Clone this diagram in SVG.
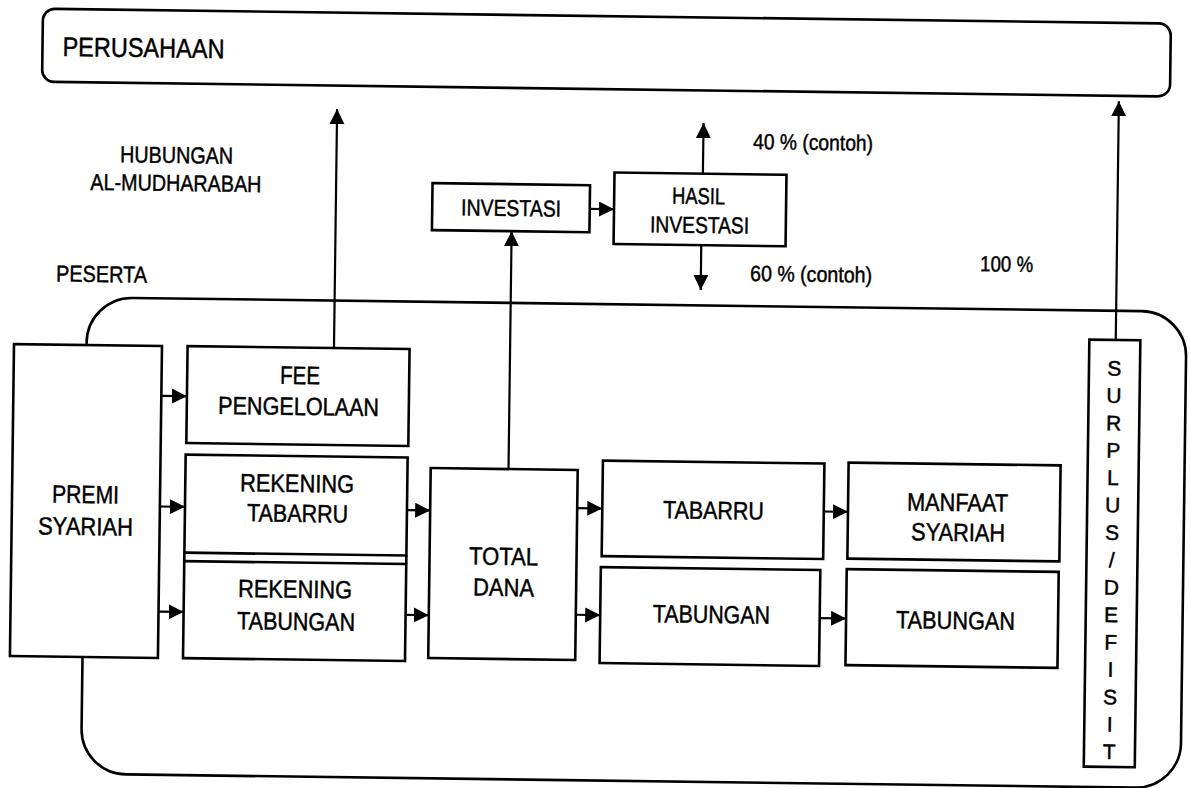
<svg xmlns="http://www.w3.org/2000/svg" width="1190" height="788" viewBox="0 0 1190 788">
<style>
.box{fill:#fff;stroke:#000;stroke-width:2.6}
.frame{fill:none;stroke:#000;stroke-width:2.6}
.t{font-family:"Liberation Sans Narrow","Liberation Sans",Arial,sans-serif;font-size:25px;fill:#000;stroke:#000;stroke-width:0.45;text-anchor:middle}
.s{font-size:23px}
.p{font-size:22px;text-anchor:start}
.conn line{stroke:#000;stroke-width:2.2;fill:none}
</style>
<defs>
<marker id="ah" markerUnits="userSpaceOnUse" markerWidth="16" markerHeight="16" refX="15" refY="7.5" orient="auto">
<path d="M0,0 L15,7.5 L0,15 Z" fill="#000"/>
</marker>
</defs>
<rect width="1190" height="788" fill="#fff"/>
<g transform="rotate(0.75 595 394)">
<g id="peserta">
<rect class="frame" x="86" y="304" width="1099.5" height="476.5" rx="45"/>
<text class="t s" x="54.5" y="288.5" style="text-anchor:start" textLength="91" lengthAdjust="spacingAndGlyphs">PESERTA</text>
</g>
<g id="perusahaan">
<rect class="frame" x="38" y="16" width="1128" height="73" rx="12"/>
<text class="t" x="58" y="63" style="text-anchor:start;font-size:27px" textLength="162" lengthAdjust="spacingAndGlyphs">PERUSAHAAN</text>
</g>
<g id="hubungan">
<text class="t s" x="173.5" y="168.5" textLength="113" lengthAdjust="spacingAndGlyphs">HUBUNGAN</text>
<text class="t s" x="173.2" y="196.5" textLength="171" lengthAdjust="spacingAndGlyphs">AL-MUDHARABAH</text>
</g>
<g id="premi">
<rect class="box" x="13.4" y="351.7" width="148" height="312"/>
<text class="t" x="86.9" y="509.7" textLength="67" lengthAdjust="spacingAndGlyphs">PREMI</text>
<text class="t" x="87.3" y="541.7" textLength="95" lengthAdjust="spacingAndGlyphs">SYARIAH</text>
</g>
<g id="fee">
<rect class="box" x="187" y="351.4" width="222" height="97"/>
<text class="t" x="299.9" y="387.9" textLength="40" lengthAdjust="spacingAndGlyphs">FEE</text>
<text class="t" x="298.8" y="418.9" textLength="161" lengthAdjust="spacingAndGlyphs">PENGELOLAAN</text>
</g>
<g id="rek-tabarru">
<rect class="box" x="186.5" y="460" width="222" height="98"/>
<path class="frame" d="M186.5,558 V566.5 M408.5,558 V566.5"/>
<text class="t" x="298.3" y="495.9" textLength="114" lengthAdjust="spacingAndGlyphs">REKENING</text>
<text class="t" x="299.2" y="525.9" textLength="101" lengthAdjust="spacingAndGlyphs">TABARRU</text>
</g>
<g id="rek-tabungan">
<rect class="box" x="186.5" y="566.5" width="222" height="97"/>
<text class="t" x="297.7" y="601.7" textLength="114" lengthAdjust="spacingAndGlyphs">REKENING</text>
<text class="t" x="299.1" y="633.9" textLength="118" lengthAdjust="spacingAndGlyphs">TABUNGAN</text>
</g>
<g id="total-dana">
<rect class="box" x="431.7" y="470.2" width="147" height="190"/>
<text class="t" x="505.8" y="566.2" textLength="69" lengthAdjust="spacingAndGlyphs">TOTAL</text>
<text class="t" x="506.1" y="597.2" textLength="61" lengthAdjust="spacingAndGlyphs">DANA</text>
</g>
<g id="investasi">
<rect class="box" x="429.8" y="185.3" width="157.5" height="47"/>
<text class="t s" x="508.7" y="217.1" textLength="100" lengthAdjust="spacingAndGlyphs">INVESTASI</text>
</g>
<g id="hasil-investasi">
<rect class="box" x="611.6" y="172.3" width="172" height="71.5"/>
<text class="t s" x="696" y="202.6" textLength="53" lengthAdjust="spacingAndGlyphs">HASIL</text>
<text class="t s" x="697.4" y="231.6" textLength="99" lengthAdjust="spacingAndGlyphs">INVESTASI</text>
</g>
<g id="labels">
<text class="t p" x="749.8" y="147.1" textLength="120" lengthAdjust="spacingAndGlyphs">40 % (contoh)</text>
<text class="t p" x="748.5" y="278.9" textLength="122" lengthAdjust="spacingAndGlyphs">60 % (contoh)</text>
<text class="t p" x="978.4" y="266.3" textLength="53" lengthAdjust="spacingAndGlyphs">100 %</text>
</g>
<g id="tabarru">
<rect class="box" x="603.8" y="460.5" width="221.5" height="95.5"/>
<text class="t" x="715" y="517.4" textLength="101" lengthAdjust="spacingAndGlyphs">TABARRU</text>
</g>
<g id="manfaat">
<rect class="box" x="849.5" y="459.3" width="212" height="96"/>
<text class="t" x="959" y="506.3" textLength="101" lengthAdjust="spacingAndGlyphs">MANFAAT</text>
<text class="t" x="960" y="536.2" textLength="94" lengthAdjust="spacingAndGlyphs">SYARIAH</text>
</g>
<g id="tabungan">
<rect class="box" x="603.1" y="567" width="219.5" height="96"/>
<text class="t" x="714.3" y="621.5" textLength="117" lengthAdjust="spacingAndGlyphs">TABUNGAN</text>
</g>
<g id="tabungan-2">
<rect class="box" x="849" y="565.8" width="212" height="96"/>
<text class="t" x="958.5" y="624.3" textLength="119" lengthAdjust="spacingAndGlyphs">TABUNGAN</text>
</g>
<g id="surplus-defisit">
<rect class="box" x="1088.6" y="333.2" width="51" height="427"/>
<text class="t" style="font-size:21px">
<tspan x="1114" y="368.7">S</tspan><tspan x="1114" y="396.1">U</tspan><tspan x="1114" y="423.5">R</tspan><tspan x="1114" y="450.9">P</tspan><tspan x="1114" y="478.3">L</tspan><tspan x="1114" y="505.7">U</tspan><tspan x="1114" y="533.1">S</tspan><tspan x="1114" y="560.5">/</tspan><tspan x="1114" y="587.9">D</tspan><tspan x="1114" y="615.3">E</tspan><tspan x="1114" y="642.7">F</tspan><tspan x="1114" y="670.1">I</tspan><tspan x="1114" y="697.5">S</tspan><tspan x="1114" y="724.9">I</tspan><tspan x="1114" y="752.3">T</tspan>
</text>
</g>
<g id="connectors" class="conn">
<line x1="333.4" y1="351.4" x2="333.4" y2="112.4" marker-end="url(#ah)"/>
<line x1="1115" y1="333.2" x2="1115" y2="94.5" marker-end="url(#ah)"/>
<line x1="509.5" y1="470.2" x2="509.5" y2="232.3" marker-end="url(#ah)"/>
<line x1="587.3" y1="209" x2="611.6" y2="209" marker-end="url(#ah)"/>
<line x1="700" y1="172.3" x2="700" y2="121.6" marker-end="url(#ah)"/>
<line x1="699.3" y1="243.8" x2="699.3" y2="288.6" marker-end="url(#ah)"/>
<line x1="161.4" y1="401.5" x2="187" y2="401.5" marker-end="url(#ah)"/>
<line x1="161.4" y1="512.2" x2="186.5" y2="512.2" marker-end="url(#ah)"/>
<line x1="161.4" y1="617.3" x2="186.5" y2="617.3" marker-end="url(#ah)"/>
<line x1="408.5" y1="512.6" x2="431.7" y2="512.6" marker-end="url(#ah)"/>
<line x1="408.5" y1="617.3" x2="431.7" y2="617.3" marker-end="url(#ah)"/>
<line x1="578.7" y1="508.4" x2="603.8" y2="508.4" marker-end="url(#ah)"/>
<line x1="578.7" y1="615" x2="603.1" y2="615" marker-end="url(#ah)"/>
<line x1="825.3" y1="508.5" x2="849.5" y2="508.5" marker-end="url(#ah)"/>
<line x1="822.6" y1="615.2" x2="849" y2="615.2" marker-end="url(#ah)"/>
</g>
</g>
</svg>
